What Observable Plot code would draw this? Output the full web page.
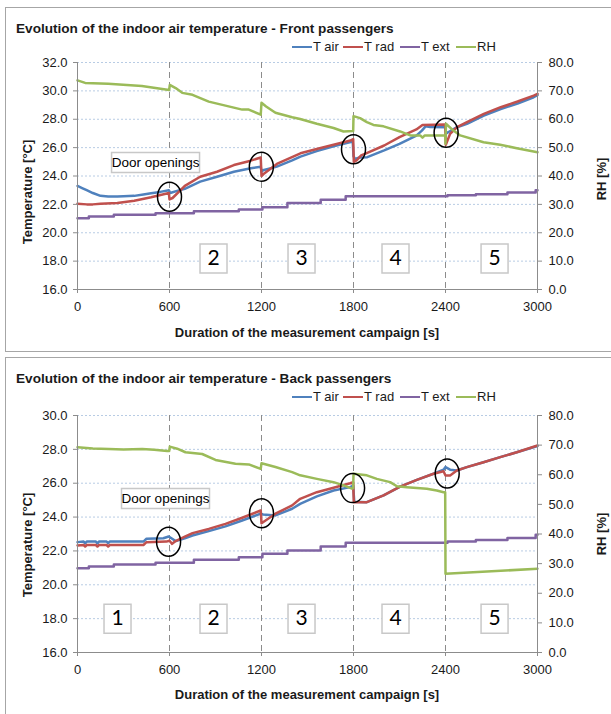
<!DOCTYPE html>
<html><head><meta charset="utf-8">
<script src="https://cdn.jsdelivr.net/npm/d3@7"></script>
<script src="https://cdn.jsdelivr.net/npm/@observablehq/plot@0.6"></script>
<style>
body{margin:0;background:#fff;}
#page{position:relative;width:611px;height:714px;overflow:hidden;font-family:"Liberation Sans",Arial,sans-serif;color:#1a1a1a;}
.frame{position:absolute;border:1.5px solid #a6a6a6;box-sizing:border-box;}
.title{position:absolute;left:16px;font-weight:bold;font-size:13.6px;white-space:nowrap;line-height:1;}
.leg{position:absolute;font-size:13px;display:flex;align-items:center;white-space:nowrap;line-height:1;}
.leg .sw{display:inline-block;width:20px;height:0;border-top:2.5px solid;margin-right:1px;}
.ylab{position:absolute;font-weight:bold;font-size:13px;white-space:nowrap;line-height:1;transform:translate(-50%,-50%) rotate(-90deg);}
.xlab{position:absolute;font-weight:bold;font-size:13px;white-space:nowrap;line-height:1;transform:translate(-50%,-50%);}
.chart{position:absolute;left:0;}
</style></head>
<body>
<div id="page">
  <div class="frame" style="left:5px;top:7px;width:620px;height:345px;"></div>
  <div class="frame" style="left:5px;top:357px;width:620px;height:380px;"></div>
  <div class="title" id="t1" style="top:22px;"></div>
  <div class="title" id="t2" style="top:372px;"></div>
  <div id="leg1"></div>
  <div id="leg2"></div>
  <div class="ylab" style="left:27px;top:192px;">Temperature [°C]</div>
  <div class="ylab" style="left:601px;top:179px;">RH [%]</div>
  <div class="xlab" style="left:307px;top:332px;">Duration of the measurement campaign [s]</div>
  <div class="ylab" style="left:27px;top:545px;">Temperature [°C]</div>
  <div class="ylab" style="left:601px;top:534px;">RH [%]</div>
  <div class="xlab" style="left:307px;top:694px;">Duration of the measurement campaign [s]</div>
  <div class="chart" id="c1" style="top:50px;"></div>
  <div class="chart" id="c2" style="top:400px;"></div>
</div>
<script>
// ---------- data ----------
const titles = ["Evolution of the indoor air temperature - Front passengers",
                "Evolution of the indoor air temperature - Back passengers"];
const seriesNames = ["T air", "T rad", "T ext", "RH"];
const xTicks = [0, 600, 1200, 1800, 2400, 3000];
const doorTimes = [600, 1200, 1800, 2400];
const frontTempTicks = [16, 18, 20, 22, 24, 26, 28, 30, 32];
const backTempTicks = [16, 18, 20, 22, 24, 26, 28, 30];
const rhTicks = [0, 10, 20, 30, 40, 50, 60, 70, 80];
const doorLabel = "Door openings";

// Front passengers [time s, value]
const frontAir = [[0,23.3],[30,23.15],[60,23.0],[100,22.8],[150,22.6],[200,22.55],[260,22.55],[300,22.57],[370,22.6],[430,22.7],[480,22.78],[540,22.88],[596,23.0],[605,22.8],[620,22.85],[650,22.95],[700,23.1],[800,23.6],[910,23.95],[1020,24.3],[1130,24.55],[1195,24.65],[1200,24.3],[1210,24.4],[1300,24.66],[1400,25.1],[1454,25.37],[1560,25.75],[1670,26.1],[1795,26.43],[1800,25.4],[1810,25.2],[1840,25.3],[1890,25.33],[2000,25.8],[2100,26.27],[2210,26.85],[2246,27.2],[2270,27.5],[2300,27.45],[2398,27.44],[2405,27.0],[2420,27.1],[2475,27.44],[2540,27.68],[2650,28.26],[2760,28.72],[2870,29.1],[2975,29.55],[3000,29.7]];
const frontRad = [[0,22.05],[60,22.0],[100,22.0],[150,22.05],[260,22.1],[370,22.26],[480,22.5],[596,22.8],[600,22.35],[620,22.45],[700,23.3],[800,23.95],[910,24.3],[1020,24.77],[1130,25.08],[1195,25.3],[1200,24.0],[1220,24.2],[1300,24.85],[1454,25.6],[1560,25.9],[1670,26.2],[1780,26.5],[1798,26.6],[1802,25.0],[1820,25.1],[1850,25.45],[1890,25.63],[2000,26.15],[2100,26.74],[2210,27.28],[2250,27.6],[2398,27.63],[2402,26.2],[2430,26.97],[2475,27.44],[2540,27.8],[2650,28.38],[2760,28.85],[2870,29.25],[2975,29.67],[3000,29.79]];
const frontExt = [[0,21.03],[74,21.15],[237,21.27],[509,21.38],[759,21.52],[1052,21.64],[1206,21.8],[1369,22.1],[1586,22.33],[1749,22.57],[2413,22.64],[2598,22.71],[2804,22.83],[2988,23.0],[3000,23.0]];
const frontRH = [[0,73.7],[50,72.8],[200,72.5],[420,71.7],[575,70.5],[598,70.3],[602,72.1],[640,71.0],[683,69.3],[750,68.6],[856,66.2],[965,64.8],[1074,63.4],[1117,63.4],[1195,61.6],[1200,65.8],[1230,64.5],[1291,62.3],[1400,60.7],[1452,60.1],[1561,58.4],[1670,56.9],[1735,55.7],[1798,55.9],[1800,61.1],[1843,60.4],[1887,59.0],[1930,58.0],[1996,57.5],[2104,55.7],[2170,54.3],[2235,54.3],[2250,53.5],[2265,54.3],[2398,54.3],[2400,51.4],[2403,58.4],[2452,56.0],[2496,54.3],[2648,51.9],[2757,51.0],[2865,49.8],[3000,48.4]];
const frontCircles = [[600,22.54],[1199,24.65],[1800,25.89],[2404,27.05]];
const frontPeriods = ["2", "3", "4", "5"];
const frontPeriodTimes = [887, 1461, 2074, 2720];
const frontPeriodLevel = 18.19;
const frontDoorLabelAt = [509, 24.95];

// Back passengers [time s, value]
const backAir = [[0,22.52],[40,22.55],[50,22.45],[60,22.55],[120,22.55],[130,22.45],[140,22.55],[190,22.55],[200,22.46],[210,22.55],[430,22.55],[450,22.72],[560,22.75],[595,22.85],[620,22.7],[640,22.58],[700,22.75],[750,22.91],[856,23.17],[965,23.45],[1074,23.8],[1195,24.2],[1210,24.15],[1291,24.1],[1400,24.49],[1452,24.78],[1561,25.22],[1670,25.57],[1778,25.77],[1798,25.85],[1805,24.9],[1887,24.88],[1996,25.28],[2104,25.8],[2213,26.2],[2322,26.56],[2387,26.8],[2400,26.95],[2430,26.8],[2474,26.75],[2539,26.95],[2648,27.24],[2757,27.54],[2865,27.83],[3000,28.2]];
const backRad = [[0,22.32],[40,22.35],[50,22.26],[60,22.35],[120,22.35],[130,22.26],[140,22.35],[190,22.35],[200,22.26],[210,22.35],[430,22.35],[450,22.52],[580,22.55],[600,22.6],[617,22.42],[640,22.58],[700,22.85],[750,23.05],[856,23.3],[965,23.6],[1074,23.96],[1195,24.39],[1200,23.64],[1291,24.2],[1400,24.69],[1452,25.08],[1561,25.47],[1670,25.73],[1778,26.0],[1798,26.06],[1802,24.88],[1887,24.88],[1996,25.28],[2104,25.8],[2213,26.2],[2322,26.56],[2387,26.71],[2400,26.46],[2430,26.46],[2474,26.75],[2539,26.95],[2648,27.24],[2757,27.54],[2865,27.83],[3000,28.23]];
const backExt = [[0,20.98],[74,21.08],[237,21.2],[509,21.3],[759,21.48],[1052,21.63],[1206,21.83],[1369,22.03],[1586,22.26],[1749,22.48],[2413,22.56],[2598,22.65],[2804,22.77],[2988,22.95],[3000,22.95]];
const backRH = [[0,69.3],[100,68.9],[204,68.7],[300,68.5],[422,68.7],[500,68.4],[585,68.0],[598,68.0],[602,69.5],[650,68.8],[704,67.6],[813,67.0],[900,65.0],[1030,63.7],[1117,63.5],[1195,62.0],[1200,63.9],[1291,62.6],[1400,60.9],[1452,59.8],[1561,58.6],[1670,57.5],[1735,56.4],[1790,55.3],[1798,55.5],[1800,60.3],[1887,59.8],[1952,58.6],[2039,57.5],[2083,56.1],[2148,55.8],[2278,55.3],[2343,54.7],[2387,54.1],[2398,54.1],[2400,26.6],[3000,28.25]];
const backCircles = [[594,22.54],[1200,24.23],[1794,25.71],[2411,26.57]];
const backPeriods = ["1", "2", "3", "4", "5"];
const backPeriodTimes = [261, 887, 1461, 2074, 2720];
const backPeriodLevel = 18.0;
const backDoorLabelAt = [574, 25.1];

// ---------- styles ----------
const colors = ["#4f81bd", "#c0504d", "#8064a2", "#9bbb59"];
const FONT = "'Liberation Sans',Arial,sans-serif";
const axisGray = "#8c8c8c";

const rows = pairs => pairs.map(([t, v]) => ({t, v}));

const ellipseSymbol = (rx, ry) => ({
  draw(ctx) {
    const k = 0.5523;
    ctx.moveTo(rx, 0);
    ctx.bezierCurveTo(rx, k*ry, k*rx, ry, 0, ry);
    ctx.bezierCurveTo(-k*rx, ry, -rx, k*ry, -rx, 0);
    ctx.bezierCurveTo(-rx, -k*ry, -k*rx, -ry, 0, -ry);
    ctx.bezierCurveTo(k*rx, -ry, rx, -k*ry, rx, 0);
    ctx.closePath();
  }
});
const rectSymbol = (w, h) => ({
  draw(ctx) { ctx.rect(-w/2, -h/2, w, h); }
});

function legend(id, top) {
  const el = document.getElementById(id);
  const lefts = [292, 343, 400, 456];
  seriesNames.forEach((name, i) => {
    const d = document.createElement("div");
    d.className = "leg";
    d.style.left = lefts[i] + "px";
    d.style.top = (top - 7) + "px";
    d.innerHTML = `<span class="sw" style="border-color:${colors[i]}"></span><span>${name}</span>`;
    el.appendChild(d);
  });
}

function panel(cfg) {
  const tMin = 16, tMax = cfg.tMax;
  const rhToT = rh => tMin + rh * (tMax - tMin) / 80;
  const series = [cfg.air, cfg.rad, cfg.ext].map(rows);
  const rh = rows(cfg.rh);
  const periods = cfg.periods.map((label, i) => ({label, t: cfg.periodTimes[i], v: cfg.periodLevel}));
  const door = [{label: doorLabel, t: cfg.doorAt[0], v: cfg.doorAt[1]}];
  return Plot.plot({
    width: 611, height: cfg.height,
    marginLeft: 77, marginRight: 74, marginTop: cfg.mt, marginBottom: cfg.mb,
    x: {domain: [0, 3000]},
    y: {domain: [tMin, tMax]},
    style: {fontFamily: FONT, fontSize: "13px", color: "#1a1a1a", background: "transparent", overflow: "visible"},
    marks: [
      Plot.gridY(cfg.tempTicks.filter(d => d > tMin), {stroke: "#b8cce4", strokeOpacity: 1, strokeDasharray: "2,2"}),
      Plot.ruleX(doorTimes, {stroke: "#8c8c8c", strokeDasharray: "6,4"}),
      Plot.line(series[0], {x: "t", y: "v", stroke: colors[0], strokeWidth: 2.5}),
      Plot.line(series[1], {x: "t", y: "v", stroke: colors[1], strokeWidth: 2.5}),
      Plot.line(series[2], {x: "t", y: "v", stroke: colors[2], strokeWidth: 2.5, curve: "step-after"}),
      Plot.line(rh, {x: "t", y: d => rhToT(d.v), stroke: colors[3], strokeWidth: 2.5}),
      Plot.ruleY([tMin], {stroke: axisGray}),
      Plot.ruleX([0, 3000], {stroke: axisGray}),
      Plot.axisY(cfg.tempTicks, {anchor: "left", tickSize: 4, tickPadding: 6, stroke: axisGray, fill: "#1a1a1a",
        tickFormat: d => d.toFixed(1), label: null}),
      Plot.axisY(rhTicks.map(rhToT), {anchor: "right", tickSize: 4, tickPadding: 7, stroke: axisGray, fill: "#1a1a1a",
        tickFormat: d => ((d - tMin) * 80 / (tMax - tMin)).toFixed(1), label: null}),
      Plot.axisX(xTicks, {anchor: "bottom", tickSize: 4, tickPadding: 8, stroke: axisGray, fill: "#1a1a1a",
        tickFormat: d => String(d), label: null}),
      Plot.dot(rows(cfg.circles), {x: "t", y: "v", symbol: ellipseSymbol(12, 14.5), fill: "none", stroke: "#000", strokeWidth: 1.5}),
      Plot.dot(periods, {x: "t", y: "v", symbol: rectSymbol(27, 29), fill: "#fff", stroke: "#c8c8c8"}),
      Plot.text(periods, {x: "t", y: "v", text: "label", fontSize: 21, fontFamily: "Lato,'Open Sans',sans-serif", fill: "#000"}),
      Plot.dot(door, {x: "t", y: "v", symbol: rectSymbol(88, 20), fill: "#fff", stroke: "#c8c8c8"}),
      Plot.text(door, {x: "t", y: "v", text: "label", fontSize: 13.5, fill: "#000"})
    ]
  });
}

document.getElementById("t1").textContent = titles[0];
document.getElementById("t2").textContent = titles[1];
legend("leg1", 47);
legend("leg2", 397);

document.getElementById("c1").appendChild(panel({
  height: 300, mt: 12, mb: 61, tMax: 32, tempTicks: frontTempTicks,
  air: frontAir, rad: frontRad, ext: frontExt, rh: frontRH, circles: frontCircles,
  periods: frontPeriods, periodTimes: frontPeriodTimes, periodLevel: frontPeriodLevel, doorAt: frontDoorLabelAt
}));
document.getElementById("c2").appendChild(panel({
  height: 314, mt: 15, mb: 62, tMax: 30, tempTicks: backTempTicks,
  air: backAir, rad: backRad, ext: backExt, rh: backRH, circles: backCircles,
  periods: backPeriods, periodTimes: backPeriodTimes, periodLevel: backPeriodLevel, doorAt: backDoorLabelAt
}));
</script>
</body></html>
